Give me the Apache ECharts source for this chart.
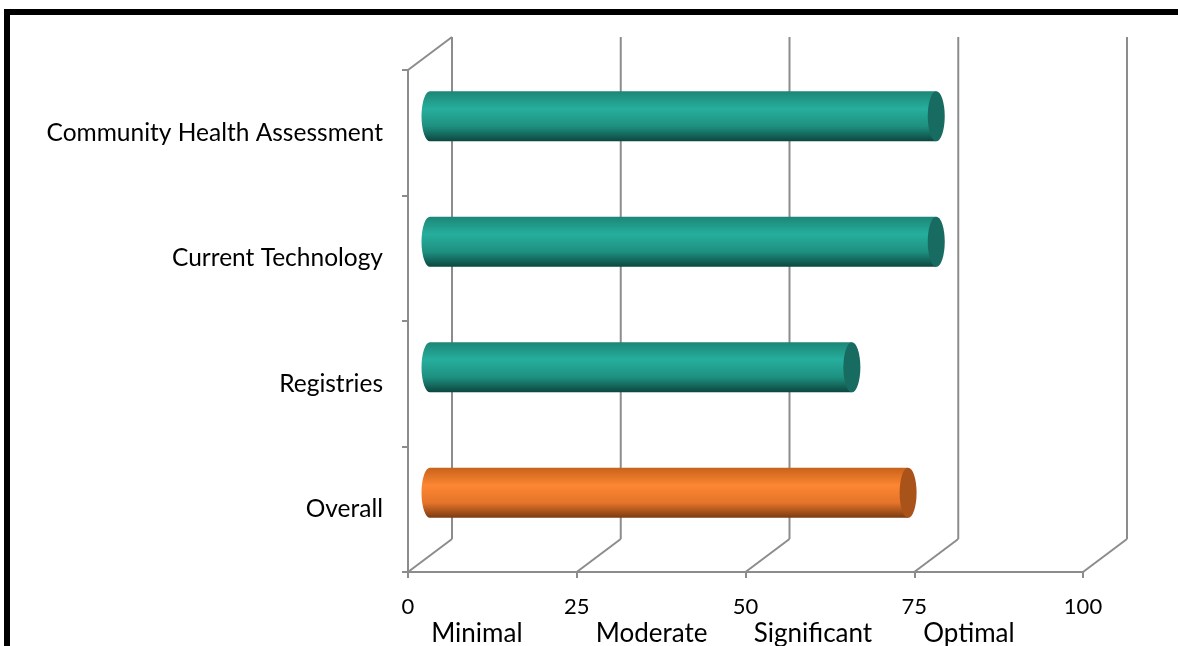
<!DOCTYPE html>
<html><head><meta charset="utf-8">
<script src="https://cdn.jsdelivr.net/npm/echarts@6/dist/echarts.min.js"></script>
<style>html,body{margin:0;padding:0;background:#fff;}#c{width:1178px;height:646px;}</style>
</head><body><div id="c"></div>
<script>
// Data
const categories = ['Overall', 'Registries', 'Current Technology', 'Community Health Assessment'];
const values = [70.83, 62.5, 75, 75];
const xTicks = [0, 25, 50, 75, 100];
const levelNames = ['Minimal', 'Moderate', 'Significant', 'Optimal'];
const levelPositions = [10.2, 36.1, 60, 83.1];

const FONT = 'Lato, "Liberation Sans", sans-serif';
const GRAY = '#8c8c8c';
const DX = 44, DY = -33;

const tealBody = ['#1c8676', '#26ae9d', '#1e9080', '#0c463f'];
const orangeBody = ['#c7621b', '#fd8632', '#e5742a', '#7a3a10'];
const tealCap = '#176b60';
const orangeCap = '#a9521a';

const chart = echarts.init(document.getElementById('c'));

function gradient(c) {
  return new echarts.graphic.LinearGradient(0, 0, 0, 1, [
    {offset: 0, color: c[0]},
    {offset: 0.35, color: c[1]},
    {offset: 0.7, color: c[2]},
    {offset: 1, color: c[3]}
  ]);
}

const barData = values.map((v, i) => [v, i]);
const frameData = xTicks.map(v => [v, 0]);

chart.setOption({
  animation: false,
  grid: {left: 408, right: 95, top: 70, bottom: 74, containLabel: false},
  xAxis: {
    type: 'value', min: 0, max: 100, interval: 25,
    axisLine: {show: true, lineStyle: {color: GRAY, width: 2}},
    axisTick: {show: true, length: 6, lineStyle: {color: GRAY, width: 2}},
    splitLine: {show: false},
    axisLabel: {color: '#000', fontSize: 22, fontFamily: FONT, margin: 24}
  },
  yAxis: {
    type: 'category', data: categories,
    axisLine: {show: true, lineStyle: {color: GRAY, width: 2}},
    axisTick: {show: true, length: 6, lineStyle: {color: GRAY, width: 2}},
    axisLabel: {color: '#000', fontSize: 24.5, fontFamily: FONT, margin: 25, padding: [4, 0, 0, 0]}
  },
  series: [
    {
      type: 'custom', name: 'frame', z: 1, silent: true,
      data: frameData,
      renderItem: function (params, api) {
        const cs = params.coordSys;
        const x = api.coord([api.value(0), 0])[0];
        const top = cs.y, bottom = cs.y + cs.height;
        const st = {stroke: GRAY, lineWidth: 2};
        const children = [
          {type: 'line', shape: {x1: x + DX, y1: top + DY, x2: x + DX, y2: bottom + DY}, style: st},
          {type: 'line', shape: {x1: x, y1: bottom, x2: x + DX, y2: bottom + DY}, style: st}
        ];
        if (params.dataIndex === 0) {
          children.push({type: 'line', shape: {x1: x, y1: top, x2: x + DX, y2: top + DY}, style: st});
        }
        return {type: 'group', children: children};
      }
    },
    {
      type: 'custom', name: 'bars', z: 5,
      data: barData,
      renderItem: function (params, api) {
        const v = api.value(0), idx = api.value(1);
        const p0 = api.coord([0, idx]);
        const p1 = api.coord([v, idx]);
        const band = api.size([0, 1])[1];
        const ry = band * 0.4 / 2;
        const rx = 8.5;
        const cx0 = p0[0] + DX / 2, cx1 = p1[0] + DX / 2, cy = p0[1] + DY / 2;
        const isOverall = categories[idx] === 'Overall';
        const body = 'M' + cx0 + ' ' + (cy - ry) + ' L' + cx1 + ' ' + (cy - ry) +
          ' L' + cx1 + ' ' + (cy + ry) + ' L' + cx0 + ' ' + (cy + ry) +
          ' A' + rx + ' ' + ry + ' 0 0 1 ' + cx0 + ' ' + (cy - ry) + ' Z';
        const cap = 'M' + cx1 + ' ' + (cy - ry) + ' A' + rx + ' ' + ry + ' 0 1 1 ' + cx1 + ' ' + (cy + ry) +
          ' A' + rx + ' ' + ry + ' 0 1 1 ' + cx1 + ' ' + (cy - ry) + ' Z';
        return {
          type: 'group',
          children: [
            {type: 'path', shape: {pathData: body}, style: {fill: gradient(isOverall ? orangeBody : tealBody)}},
            {type: 'path', shape: {pathData: cap}, style: {fill: isOverall ? orangeCap : tealCap}}
          ]
        };
      }
    }
  ]
});

// Border frame and level names
const graphics = [{
  type: 'rect', silent: true, z: 100,
  shape: {x: 7, y: 12, width: 1300, height: 800},
  style: {fill: 'none', stroke: '#000', lineWidth: 6}
}];
levelNames.forEach((name, i) => {
  const px = chart.convertToPixel({gridIndex: 0}, [levelPositions[i], 0])[0];
  graphics.push({
    type: 'text', x: px, y: 634, silent: true,
    style: {text: name, fill: '#000', fontSize: 26, fontFamily: FONT, align: 'center', verticalAlign: 'middle'}
  });
});
chart.setOption({graphic: graphics});
</script>
</body></html>
